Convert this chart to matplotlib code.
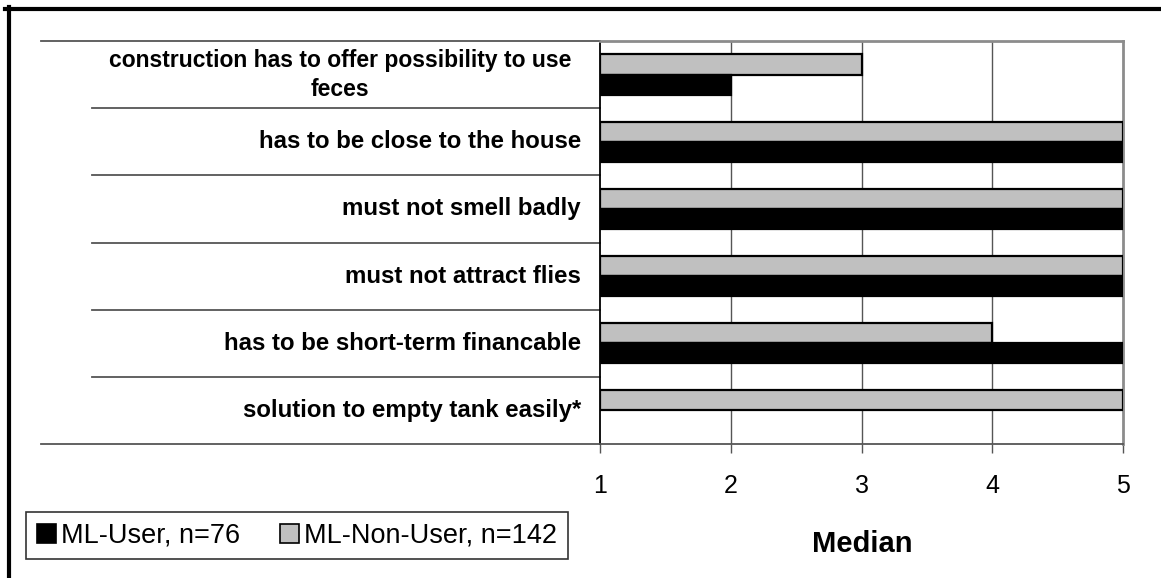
import numpy as np
import matplotlib
matplotlib.use('Agg')
import matplotlib.pyplot as plt
from matplotlib.lines import Line2D
from matplotlib.patches import Patch
from matplotlib.transforms import blended_transform_factory

plt.rcParams['font.family'] = ['Liberation Sans', 'DejaVu Sans']

# ── data ──────────────────────────────────────────────────────────────────────
criteria = ['construction has to offer possibility to use\nfeces',
            'has to be close to the house',
            'must not smell badly',
            'must not attract flies',
            'has to be short-term financable',
            'solution to empty tank easily*']
non_user_median = [3, 5, 5, 5, 4, 5]
user_median     = [2, 5, 5, 5, 5, None]   # no answer from ML users on last item
x_ticks = [1, 2, 3, 4, 5]

USER_COLOR     = '#000000'
NON_USER_COLOR = '#C0C0C0'
GRID_COLOR     = '#555555'

W, H = 1161, 578
fig = plt.figure(figsize=(W / 100, H / 100), dpi=100)
ax = fig.add_axes([600 / W, 1 - 444 / H, (1123 - 600) / W, (444 - 41) / H])

y = np.arange(len(criteria))
bar_h = 0.30
base = x_ticks[0]

# gray (non-user) bar above the category centre, black (user) below
ax.barh(y - bar_h / 2, [v - base for v in non_user_median], left=base,
        height=bar_h, color=NON_USER_COLOR, edgecolor='black', linewidth=1.6, zorder=3)
for yi, v in zip(y, user_median):
    if v is None:
        continue
    ax.barh(yi + bar_h / 2, v - base, left=base, height=bar_h,
            color=USER_COLOR, edgecolor='black', linewidth=1.6, zorder=3)

ax.set_xlim(1, 5)
ax.set_ylim(len(criteria) - 0.5, -0.5)
ax.set_xticks(x_ticks)
ax.set_xticklabels([str(t) for t in x_ticks], fontsize=18)
ax.tick_params(axis='x', length=6.5, width=1, color=GRID_COLOR, pad=15)
ax.set_yticks([])

for xv in x_ticks[1:-1]:
    ax.axvline(xv, color=GRID_COLOR, lw=1, zorder=1)

ax.spines['left'].set_color('black')
ax.spines['left'].set_linewidth(1.3)
ax.spines['bottom'].set_color(GRID_COLOR)
ax.spines['bottom'].set_linewidth(1.3)
for s in ['top', 'right']:
    ax.spines[s].set_color('#8c8c8c')
    ax.spines[s].set_linewidth(2)

# category separator lines running out into the label column
trans = blended_transform_factory(ax.transAxes, ax.transData)
n = len(criteria)
for k in range(n + 1):
    yb = k - 0.5
    x0 = (41 - 600) / 523 if k in (0, n) else (92 - 600) / 523
    ax.add_line(Line2D([x0, 0], [yb, yb], transform=trans, color=GRID_COLOR,
                       lw=1.3, clip_on=False))

# category labels (the wrapped first one is centred in its cell)
for yi, label in zip(y, criteria):
    if '\n' in label:
        ax.text((340 - 600) / 523, yi, label, transform=trans, ha='center',
                va='center', multialignment='center', fontsize=16.5,
                fontweight='bold', linespacing=1.33)
    else:
        ax.text(-19 / 523, yi, label, transform=trans, ha='right', va='center',
                fontsize=17.3, fontweight='bold')

fig.text(862 / W, 1 - 552 / H, 'Median', ha='center', va='baseline',
         fontsize=21, fontweight='bold')

handles = [Patch(facecolor=USER_COLOR, edgecolor='black', lw=1.2),
           Patch(facecolor=NON_USER_COLOR, edgecolor='black', lw=1.2)]
leg = fig.legend(handles, ['ML-User, n=76', 'ML-Non-User, n=142'],
                 loc='center', bbox_to_anchor=(297 / W, 1 - 535.5 / H), ncol=2,
                 fontsize=19.5, frameon=True, fancybox=False,
                 handlelength=0.7, handleheight=0.7, handletextpad=0.2,
                 columnspacing=1.45, borderpad=0.4, borderaxespad=0)
leg.get_frame().set_edgecolor('black')
leg.get_frame().set_linewidth(1.2)

# heavy outer frame along the top and left edge
fig.add_artist(Line2D([5 / W, 1], [1 - 9 / H, 1 - 9 / H], transform=fig.transFigure,
                      color='black', lw=3))
fig.add_artist(Line2D([9 / W, 9 / W], [0, 1 - 7 / H], transform=fig.transFigure,
                      color='black', lw=3))

fig.savefig('out.png', dpi=100)
